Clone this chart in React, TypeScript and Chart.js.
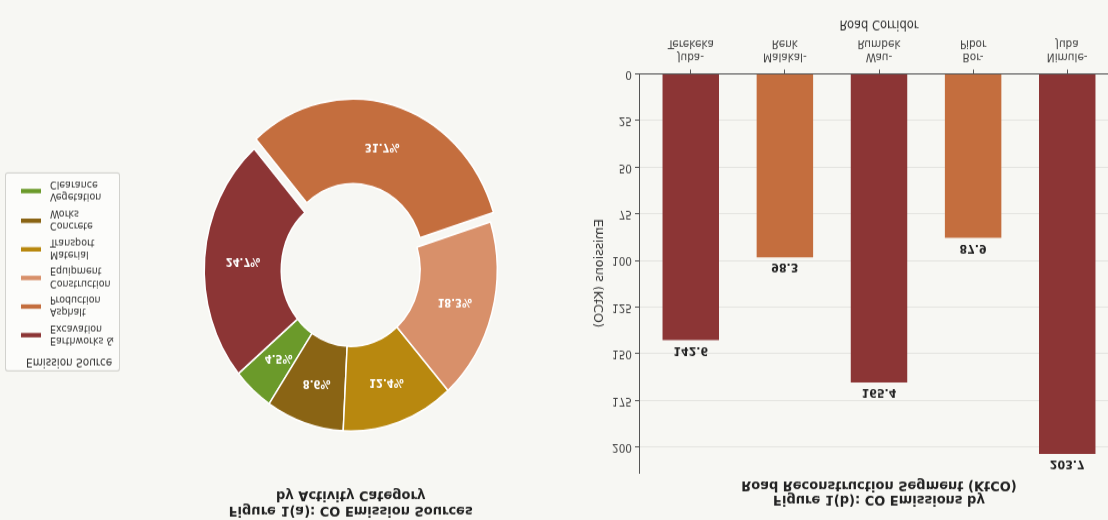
import React, { useEffect, useRef } from "react";
import { Chart, registerables } from "chart.js";

Chart.register(...registerables);

// ---------- data ----------
const sourceNames = [
  "Earthworks & Excavation",
  "Asphalt Production",
  "Construction Equipment",
  "Material Transport",
  "Concrete Works",
  "Vegetation Clearance",
];
const sourceShares = [24.7, 31.7, 18.3, 12.4, 8.6, 4.5];

const corridorNames = ["Juba-Terekeka", "Malakal-Renk", "Wau-Rumbek", "Bor-Pibor", "Nimule-Juba"];
const corridorEmissions = [142.6, 98.3, 165.4, 87.9, 203.7];
const emissionTicks = [0, 25, 50, 75, 100, 125, 150, 175, 200];

const pieTitle = ["Figure 1(a): CO Emission Sources", "by Activity Category"];
const barTitle = ["Figure 1(b): CO Emissions by", "Road Reconstruction Segment (KtCO)"];
const legendTitle = "Emission Source";
const xAxisTitle = "Road Corridor";
const yAxisTitle = "Emissions (KtCO)";

// ---------- style ----------
const FONT = "'DejaVu Sans', sans-serif";
const BG = "#f7f7f3";
const sourceColors = ["#8c3535", "#c46e3e", "#d8906a", "#b8880f", "#8a6414", "#6b9a2a"];
const corridorColors = ["#8c3535", "#c46e3e", "#8c3535", "#c46e3e", "#8c3535"];
const explodedSource = "Asphalt Production";

const splitLegend = (s: string) => {
  const k = s.lastIndexOf(" ");
  return [s.slice(0, k), s.slice(k + 1)];
};
const splitCorridor = (s: string) => {
  const k = s.indexOf("-");
  return [s.slice(0, k + 1), s.slice(k + 1)];
};

function DonutPanel() {
  const ref = useRef<HTMLCanvasElement>(null);
  useEffect(() => {
    const order = sourceNames.map((_, i) => i).reverse();
    const pctLabels = {
      id: "pctLabels",
      afterDatasetsDraw(chart: any) {
        const meta = chart.getDatasetMeta(0);
        const ctx = chart.ctx;
        ctx.save();
        ctx.font = `bold 10px ${FONT}`;
        ctx.fillStyle = "#ffffff";
        ctx.textAlign = "center";
        ctx.textBaseline = "middle";
        meta.data.forEach((arc: any, j: number) => {
          const p = arc.getProps(["x", "y", "startAngle", "endAngle", "innerRadius", "outerRadius"], true);
          const mid = (p.startAngle + p.endAngle) / 2;
          const off = (arc.options.offset || 0) / 4;
          const r = (p.innerRadius + p.outerRadius) / 2 + off;
          ctx.fillText(sourceShares[order[j]].toFixed(1) + "%", p.x + Math.cos(mid) * r, p.y + Math.sin(mid) * r);
        });
        ctx.restore();
      },
    };
    const chart = new Chart(ref.current as HTMLCanvasElement, {
      type: "doughnut",
      data: {
        labels: order.map((i) => sourceNames[i]),
        datasets: [
          {
            data: order.map((i) => sourceShares[i]),
            backgroundColor: order.map((i) => sourceColors[i]),
            borderColor: "#ffffff",
            borderWidth: 1.5,
            offset: order.map((i) => (sourceNames[i] === explodedSource ? 34 : 0)),
            hoverOffset: 0,
            rotation: -50,
            cutout: "47.4%",
            radius: 146.5,
          } as any,
        ],
      },
      options: {
        responsive: false,
        animation: false,
        events: [],
        layout: { padding: { left: 150, right: 8.6, top: 0, bottom: 57.9 } },
        plugins: {
          legend: { display: false },
          tooltip: { enabled: false },
          title: {
            display: true,
            text: pieTitle,
            color: "#222",
            font: { family: FONT, size: 13, weight: "bold", lineHeight: 1.046 },
            padding: { top: 2.3, bottom: 10 },
          },
        },
      } as any,
      plugins: [pctLabels],
    });
    return () => chart.destroy();
  }, []);
  return (
    <canvas
      ref={ref}
      width={560}
      height={473}
      style={{ position: "absolute", left: 0, top: 0, width: 560, height: 473 }}
    />
  );
}

function Legend() {
  return (
    <div
      style={{
        position: "absolute",
        left: 5,
        top: 134.5,
        width: 115,
        height: 181,
        boxSizing: "border-box",
        border: "1px solid #d2d2ce",
        borderRadius: 3,
        background: "#fcfcfa",
        fontFamily: FONT,
        color: "#333",
      }}
    >
      <div style={{ position: "absolute", left: 20, top: 1.5, fontSize: 10.5, lineHeight: "13px", whiteSpace: "nowrap" }}>
        {legendTitle}
      </div>
      {sourceNames.map((n, i) => (
        <div key={n} style={{ position: "absolute", left: 0, top: 32 + i * 26.2 - 11, height: 22, width: "100%" }}>
          <span
            style={{
              position: "absolute",
              left: 15,
              top: 9,
              width: 20,
              height: 4,
              background: sourceColors[i],
            }}
          />
          <div
            style={{
              position: "absolute",
              left: 44,
              top: 0,
              fontSize: 9.5,
              lineHeight: "11px",
              whiteSpace: "pre",
            }}
          >
            {splitLegend(n).join("\n")}
          </div>
        </div>
      ))}
    </div>
  );
}

function BarPanel() {
  const ref = useRef<HTMLCanvasElement>(null);
  useEffect(() => {
    const valueLabels = {
      id: "valueLabels",
      afterDatasetsDraw(chart: any) {
        const meta = chart.getDatasetMeta(0);
        const ctx = chart.ctx;
        ctx.save();
        ctx.font = `bold 11px ${FONT}`;
        ctx.fillStyle = "#222";
        ctx.textAlign = "center";
        ctx.textBaseline = "middle";
        meta.data.forEach((bar: any, i: number) => {
          ctx.fillText(corridorEmissions[i].toFixed(1), bar.x, bar.y - 9);
        });
        ctx.restore();
      },
    };
    const chart = new Chart(ref.current as HTMLCanvasElement, {
      type: "bar",
      data: {
        datasets: [
          {
            data: corridorEmissions.map((v, i) => ({ x: i, y: v })),
            backgroundColor: corridorColors,
            borderWidth: 0,
            categoryPercentage: 0.6,
            barPercentage: 1,
          } as any,
        ],
      },
      options: {
        responsive: false,
        animation: false,
        events: [],
        layout: { padding: { left: 30, right: 8, top: 0, bottom: 14 } },
        plugins: {
          legend: { display: false },
          tooltip: { enabled: false },
          title: {
            display: true,
            fullSize: false,
            text: barTitle,
            color: "#222",
            font: { family: FONT, size: 13, weight: "bold", lineHeight: 1.046 },
            padding: { top: 11.6, bottom: 3.9 },
          },
        },
        scales: {
          x: {
            type: "linear",
            offset: false,
            min: -0.55,
            max: 4.55,
            afterBuildTicks: (s: any) => {
              s.ticks = corridorNames.map((_, i) => ({ value: i }));
            },
            afterFit: (s: any) => {
              s.height = 53.5;
            },
            ticks: {
              callback: (v: any) => splitCorridor(corridorNames[v] || ""),
              font: { family: FONT, size: 10.5, lineHeight: 1.2 },
              color: "#444",
              padding: 5,
              maxRotation: 0,
              autoSkip: false,
            },
            grid: { drawOnChartArea: false, offset: false, tickLength: 4, tickColor: "#555" },
            border: { color: "#555" },
            title: {
              display: true,
              text: xAxisTitle,
              color: "#333",
              font: { family: FONT, size: 11.5 },
              padding: { top: 4, bottom: 1 },
            },
          },
          y: {
            type: "linear",
            min: 0,
            max: Math.max(...corridorEmissions) * 1.05,
            afterBuildTicks: (s: any) => {
              s.ticks = emissionTicks.map((v) => ({ value: v }));
            },
            afterFit: (s: any) => {
              s.width = 49;
            },
            ticks: {
              font: { family: FONT, size: 10.5 },
              color: "#444",
              padding: 3,
            },
            grid: { color: "rgba(0,0,0,0.08)", tickColor: "#555", tickLength: 4 },
            border: { color: "#555" },
            title: {
              display: true,
              text: yAxisTitle,
              color: "#333",
              font: { family: FONT, size: 11.5 },
              padding: { top: 3, bottom: 4 },
            },
          },
        },
      } as any,
      plugins: [valueLabels],
    });
    return () => chart.destroy();
  }, []);
  return (
    <canvas
      ref={ref}
      width={567}
      height={473}
      style={{ position: "absolute", left: 560, top: 0, width: 567, height: 473 }}
    />
  );
}

export default function App() {
  return (
    <div
      style={{
        position: "fixed",
        left: 0,
        top: 0,
        width: 1108,
        height: 473,
        background: BG,
        overflow: "hidden",
        transformOrigin: "0 0",
        transform: "matrix(1, 0, 0, -1.1, 0, 520)",
      }}
    >
      <DonutPanel />
      <Legend />
      <BarPanel />
    </div>
  );
}
